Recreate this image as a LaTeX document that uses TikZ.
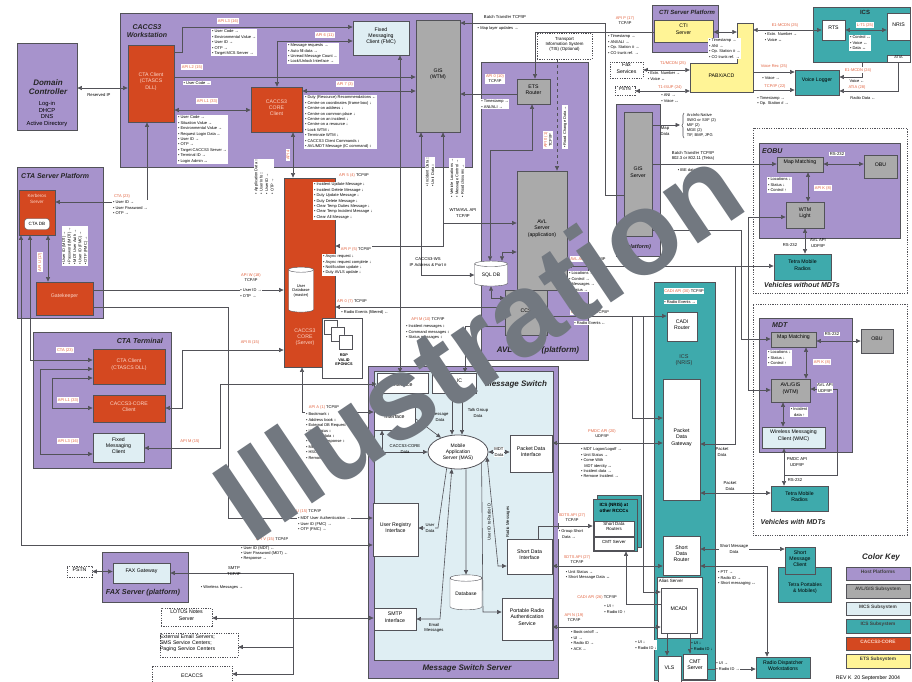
\documentclass[tikz,border=0pt]{standalone}
\usepackage{fontspec}
\setmainfont{Liberation Sans}
\usetikzlibrary{arrows.meta, fit, shapes.geometric, decorations.pathreplacing}

\definecolor{host}{RGB}{167,147,204}
\definecolor{avl}{RGB}{170,170,170}
\definecolor{mcs}{RGB}{223,238,243}
\definecolor{ics}{RGB}{62,170,172}
\definecolor{core}{RGB}{212,72,32}
\definecolor{ets}{RGB}{255,244,150}
\definecolor{borde}{RGB}{82,82,88}
\definecolor{apic}{RGB}{226,98,62}
\definecolor{rosa}{RGB}{252,214,200}
\definecolor{marca}{RGB}{114,120,128}

\begin{document}
\begin{tikzpicture}[x=1pt, y=-1pt, >={Triangle[length=4.5pt,width=4pt]},
  caja/.style={draw=borde, line width=0.8pt, inner sep=0pt, align=center, font=\fontsize{5.2}{6.2}\selectfont},
  hostb/.style={caja, fill=host},
  grisb/.style={caja, fill=avl},
  mcsb/.style={caja, fill=mcs},
  icsb/.style={caja, fill=ics},
  coreb/.style={caja, fill=core, text=rosa},
  etsb/.style={caja, fill=ets},
  blanca/.style={caja, fill=white},
  punteada/.style={caja, fill=white, line width=0.6pt, dash pattern=on 1.2pt off 1.2pt},
  titulo/.style={font=\bfseries\itshape\fontsize{7.5}{8.5}\selectfont, text=black!85, align=center, inner sep=0pt},
  bul/.style={fill=white, align=left, inner sep=0.8pt, font=\fontsize{4}{5.4}\selectfont},
  api/.style={fill=white, text=apic, align=center, inner sep=0.8pt, font=\fontsize{4}{5}\selectfont},
  nota/.style={align=center, inner sep=0.6pt, font=\fontsize{4.2}{5.2}\selectfont},
  linea/.style={draw=borde, line width=0.6pt},
  cil/.style={cylinder, shape border rotate=90, draw=borde, fill=white, aspect=0.3, inner sep=0pt, align=center, font=\fontsize{4}{4.8}\selectfont},
]
\useasboundingbox (0,0) rectangle (912,681);
\fill[white] (0,0) rectangle (912,681);

% plataformas
\node[hostb, fit={(17,43)(77,130)}] (dc) {};
\node[hostb, fit={(120,13)(472,167)}] (ws) {};
\node[hostb, fit={(17,167)(103,318)}] (ctasp) {};
\node[hostb, fit={(33,332)(171,468)}] (ctat) {};
\node[hostb, fit={(102,552)(188,602)}] (fax) {};
\node[hostb, fit={(368,366)(558,678)}] (mss) {};
\node[mcsb, fit={(374,371)(553,660)}] (ms) {};
\node[hostb, fit={(481,62)(588,360)}] (avlp) {};
\node[hostb, fit={(616,104)(660,256)}] (gisp) {};
\node[hostb, fit={(652,5)(718,52)}] (ctip) {};
\node[icsb, fit={(813,7)(910,62)}] (icsr) {};
\node[icsb, fit={(654,282)(715,680)}] (icsn) {};
\node[punteada, fit={(753,128)(907,293)}] (vsin) {};
\node[punteada, fit={(753,304)(907,535)}] (vcon) {};
\node[hostb, fit={(759,143)(900,238)}] (eobu) {};
\node[hostb, fit={(759,318)(852,452)}] (mdt) {};

% titulos
\node[titulo, font=\bfseries\itshape\fontsize{8}{9}\selectfont] at (48,87) {Domain\\Controller};
\node[nota, font=\fontsize{5.8}{6.7}\selectfont] at (47,114) {Log-in\\DHCP\\DNS\\Active Directory};
\node[titulo, font=\bfseries\itshape\fontsize{7}{7.5}\selectfont] at (147,31) {CACCS3\\Workstation};
\node[titulo, anchor=west, font=\bfseries\itshape\fontsize{7}{8}\selectfont] at (21,176) {CTA Server Platform};
\node[titulo, anchor=east, font=\bfseries\itshape\fontsize{7.2}{8}\selectfont] at (163,341) {CTA Terminal};
\node[titulo, font=\bfseries\itshape\fontsize{7.2}{8}\selectfont] at (143,593) {FAX Server (platform)};
\node[titulo, font=\bfseries\itshape\fontsize{8}{9}\selectfont] at (467,668) {Message Switch Server};
\node[titulo, font=\bfseries\itshape\fontsize{8}{9}\selectfont] at (516,384) {Message Switch};
\node[titulo, font=\bfseries\itshape\fontsize{8}{9}\selectfont] at (538,350) {AVL Server (platform)};
\node[titulo, font=\bfseries\itshape\fontsize{5.5}{6}\selectfont] at (638,247) {(platform)};
\node[titulo, font=\bfseries\itshape\fontsize{6}{7}\selectfont] at (687,12) {CTI Server Platform};
\node[titulo, font=\bfseries\fontsize{6}{7}\selectfont] at (865,12) {ICS};
\node[titulo, anchor=west, font=\bfseries\itshape\fontsize{7}{8}\selectfont] at (762,151) {EOBU};
\node[titulo, anchor=west, font=\bfseries\itshape\fontsize{7}{8}\selectfont] at (772,325) {MDT};
\node[titulo, font=\bfseries\itshape\fontsize{7}{8}\selectfont] at (802,285) {Vehicles without MDTs};
\node[titulo, font=\bfseries\itshape\fontsize{7}{8}\selectfont] at (793,522) {Vehicles with MDTs};

% estacion de trabajo y servidor
\node[coreb, fit={(128,45)(174,122)}] (ctacl) {CTA Client\\(CTASCS\\DLL)};
\node[mcsb, fit={(353,21)(409,55)}] (fmc) {Fixed\\Messaging\\Client (FMC)};
\node[coreb, fit={(251,87)(302,132)}] (corecl) {CACCS3\\CORE\\Client};
\node[grisb, fit={(416,20)(460,132)}] (giswtm) {GIS\\(WTM)};
\node[coreb, fit={(284,178)(335,367)}] (server) {};
\node[text=rosa, font=\fontsize{5.2}{6.2}\selectfont, align=center] at (305,337) {CACCS3\\CORE\\(Server)};
\node[cil, minimum width=25pt, minimum height=45pt] (userdb) at (301,291) {User\\Database\\(master)};
\node[blanca, fit={(322,318)(362,378)}] (rdp) {};
\node[cil, minimum width=13pt, minimum height=14pt] (rdp1) at (331,327) {};
\node[cil, minimum width=13pt, minimum height=14pt] (rdp2) at (338,334) {};
\node[cil, minimum width=13pt, minimum height=14pt] (rdp3) at (346,342) {};
\node[nota, font=\bfseries\fontsize{3.8}{4.6}\selectfont] at (344,360) {RDP\\VALID\\EPONICS};

% plataforma CTA y terminal
\node[coreb, fit={(19,190)(55,235)}] (kerb) {};
\node[text=rosa, font=\fontsize{4.6}{5.4}\selectfont, align=center] at (37,199) {Kerberos\\Server};
\node[draw=borde, fill=white, rounded corners=3pt, minimum width=25pt, minimum height=11pt, inner sep=0pt, font=\fontsize{4.6}{5}\selectfont] (ctadb) at (37,224) {CTA DB};
\node[coreb, fit={(36,282)(93,315)}] (gate) {Gatekeeper};
\node[coreb, fit={(93,349)(165,384)}] (ctacl2) {CTA Client\\(CTASCS DLL)};
\node[coreb, fit={(93,395)(165,422)}] (corecl2) {CACCS3-CORE\\Client};
\node[mcsb, fit={(93,433)(144,462)}] (fmc2) {Fixed\\Messaging\\Client};

% fax y correo
\node[mcsb, fit={(113,563)(170,583)}] (faxgw) {FAX Gateway};
\node[punteada, fit={(67,566)(92,577)}] (pstna) {PSTN};
\node[punteada, fit={(161,608)(212,626)}] (lotus) {LOTUS Notes\\Server};
\node[punteada, fit={(160,633)(238,657)}, align=left] (extsrv) {External Email Servers;\\SMS Service Centers;\\Paging Service Centers};
\node[punteada, fit={(152,666)(232,690)}] (ecaccs) {ECACCS};

% message switch
\node[blanca, fit={(377,373)(428,393)}] (srvif) {Server\\Interface};
\node[blanca, fit={(432,373)(476,393)}] (avlic) {AVL IC};
\node[blanca, fit={(374,407)(415,430)}] (coreif) {Interface};
\node[ellipse, draw=borde, fill=white, line width=0.8pt, minimum width=60pt, minimum height=34pt, inner sep=0pt, align=center, font=\fontsize{5}{6}\selectfont] (mas) at (458,452) {Mobile\\Application\\Server (MAS)};
\node[blanca, fit={(510,435)(552,472)}] (pdi) {Packet Data\\Interface};
\node[blanca, fit={(373,503)(418,556)}] (uri) {User Registry\\Interface};
\node[blanca, fit={(507,539)(552,574)}] (sdi) {Short Data\\Interface};
\node[cil, minimum width=32pt, minimum height=35pt, font=\fontsize{5}{6}\selectfont] (dbase) at (466,594) {Database};
\node[blanca, fit={(374,608)(416,630)}] (smtpif) {SMTP\\Interface};
\node[blanca, fit={(502,598)(552,640)}] (pras) {Portable Radio\\Authentication\\Service};

% AVL y GIS
\node[grisb, fit={(517,79)(550,104)}] (etsr) {ETS\\Router};
\node[punteada, fit={(537,33)(592,59)}, font=\fontsize{4.4}{5.4}\selectfont] (tis) {Transport\\Information System\\(TIS) (Optional)};
\node[grisb, fit={(517,171)(567,290)}] (avlsrv) {AVL\\Server\\(application)};
\node[grisb, fit={(505,290)(547,335)}] (ccs) {CCS};
\node[cil, minimum width=33pt, minimum height=25pt, font=\fontsize{5}{6}\selectfont] (sqldb) at (491,275) {SQL DB};
\node[grisb, fit={(624,112)(652,236)}] (gissrv) {GIS\\Server};

% CTI, PABX, ICS
\node[etsb, fit={(654,20)(713,42)}] (ctis) {CTI\\Server};
\filldraw[fill=ets, draw=borde, line width=0.8pt] (737,23) -- (753,23) -- (753,92) -- (690,92) -- (690,63) -- (737,63) -- cycle;
\node[inner sep=0pt, fit={(737,23)(753,63)}] (pabxt) {};
\node[inner sep=0pt, fit={(690,63)(753,92)}, font=\fontsize{5.2}{6}\selectfont] (pabx) {PABX/ACD};
\node[blanca, fit={(822,20)(845,40)}] (rts) {RTS};
\node[blanca, fit={(887,13)(910,40)}] (nris) {NRIS};
\node[blanca, fit={(887,55)(910,62)}, font=\fontsize{3.8}{4}\selectfont] (atia) {ATIA};
\node[icsb, fit={(795,70)(839,95)}] (vlog) {Voice Logger};
\node[punteada, fit={(610,62)(643,78)}] (faxs) {Fax\\Services};
\node[punteada, fit={(615,86)(635,95)}, font=\fontsize{4.4}{5}\selectfont] (pstnb) {PSTN};

\node[blanca, fit={(667,312)(697,341)}] (cadir) {CADI\\Router};
\node[nota, font=\fontsize{5.5}{6.5}\selectfont, text=black!80] at (684,360) {ICS\\(NRIS)};
\node[blanca, fit={(663,379)(700,500)}] (pdg) {Packet\\Data\\Gateway};
\node[blanca, fit={(663,536)(700,575)}] (sdr) {Short\\Data\\Router};
\node[blanca, fit={(657,577)(702,638)}] (alias) {};
\node[nota, anchor=north west, font=\fontsize{4.5}{5}\selectfont] at (658,578) {Alias Server};
\node[blanca, fit={(661,588)(697,633)}] (mcadi) {MCADI};
\node[blanca, fit={(658,656)(681,684)}] (vls) {VLS};
\node[blanca, fit={(683,654)(707,679)}] (cmt) {CMT\\Server};
\filldraw[fill=ics, draw=borde, line width=0.8pt] (597,495) rectangle (641,547);
\node[icsb, fit={(593,499)(637,551)}] (icso) {};
\node[nota, font=\bfseries\fontsize{4.6}{5.4}\selectfont, align=left] at (614,508) {ICS (NRIS) at\\other RCCCs};
\node[blanca, fit={(594,521)(634,536)}, font=\fontsize{4.4}{5}\selectfont] (sdrs) {Short Data\\Routers};
\node[blanca, fit={(594,537)(634,550)}, font=\fontsize{4.4}{5}\selectfont] (cmto) {CMT Server};

% vehiculos
\node[grisb, fit={(777,157)(823,172)}] (mm1) {Map Matching};
\node[grisb, fit={(864,155)(897,178)}] (obu1) {OBU};
\node[grisb, fit={(786,202)(824,228)}] (wtml) {WTM\\Light};
\node[icsb, fit={(774,254)(831,280)}] (tmr1) {Tetra Mobile\\Radios};
\node[grisb, fit={(771,332)(816,347)}] (mm2) {Map Matching};
\node[grisb, fit={(861,329)(893,353)}] (obu2) {OBU};
\node[grisb, fit={(771,379)(810,402)}] (avlgis) {AVL/GIS\\(WTM)};
\node[mcsb, fit={(762,427)(825,448)}] (wmc) {Wireless Messaging\\Client (WMC)};
\node[icsb, fit={(771,486)(828,511)}] (tmr2) {Tetra Mobile\\Radios};
\node[icsb, fit={(778,567)(831,602)}] (tpm) {};
\node[nota, font=\fontsize{5}{6}\selectfont] at (805,588) {Tetra Portables\\\& Mobiles)};
\node[icsb, fit={(785,547)(815,574)}] (smc) {Short\\Message\\Client};
\node[icsb, fit={(756,657)(810,678)}] (rdw) {Radio Dispatcher\\Workstations};

% conexiones
\coordinate (j1) at (443,223);
\coordinate (j2) at (632,316);
\coordinate (j3) at (643,316);
\coordinate (j4) at (735,266);
\coordinate (j5) at (748,266);
\coordinate (j6) at (784,475);
\coordinate (j7) at (293,618);
\coordinate (j8) at (293,647);
\coordinate (mapd) at (680,125);

\draw[linea,<->] (dc.east |- 0,88) -- (ctacl.west |- 0,88);
\draw[linea,->] (ctacl.east |- 0,52) -| (182,27) -- (fmc.west |- 0,27);
\draw[linea,->] (ctacl.east |- 0,77) -- (giswtm.west |- 0,77);
\draw[linea,<->] (ctacl.east |- 0,110) -- (corecl.west |- 0,110);
\draw[linea,<->] (corecl.north -| 277,0) |- (fmc.west |- 0,41);
\draw[linea,<->] (corecl.east |- 0,91) -- (giswtm.west |- 0,91);
\draw[linea,<->] (corecl.south -| 293,0) -- (server.north -| 293,0);
\draw[linea,<->] (fmc.south -| 400,0) -- (srvif.north -| 400,0);
\draw[linea,<-] (giswtm.east |- 0,23) -| (605,195) -- (gissrv.west |- 0,195);
\draw[linea,->] (ctis.west |- 0,32) -| (etsr.north -| 535,0);
\draw[linea,->] (etsr.west |- 0,94) -- (giswtm.east |- 0,94);
\draw[linea,->, dashed] (tis.south -| 557,0) -- (avlsrv.north -| 557,0);
\draw[linea,<->] (etsr.south -| 532,0) |- (490,150) -- (sqldb.north -| 490,0);
\draw[linea,<->] (giswtm.south -| 421,0) |- (sqldb.west);
\draw[linea,<->] (giswtm.south -| 443,0) |- (server.east |- 0,246);
\draw[linea,->] (j1) -- (avlsrv.west |- j1);
\draw[linea,<->] (sqldb.north -| 502,0) |- (avlsrv.west |- 0,252);
\draw[linea,<->] (sqldb.south) |- (ccs.west |- 0,298);
\draw[linea,->] (ccs.west |- 0,326) -| (avlic.north -| 465,0);
\draw[linea,<-] (server.east |- 0,307) -- (ccs.west |- 0,307);

\draw[linea,<->] (ctacl.south -| 147,0) |- (kerb.east |- 0,202);
\draw[linea,<->] (kerb.south -| 48,0) -- (gate.north -| 48,0);
\draw[linea,->] (gate.east |- 0,290) -- (server.west |- 0,290);
\draw[linea,->] (gate.east |- 0,307) -| (228,518) -- (uri.west |- 0,518);
\draw[linea,<->] (kerb.south -| 21,0) |- (uri.west |- 0,545);
\draw[linea,<->] (kerb.south -| 30,0) |- (ctacl2.west |- 0,360);
\draw[linea,<->] (ctacl2.west |- 0,378) -| (52,408) -- (corecl2.west |- 0,408);
\draw[linea,<->] (ctacl2.west |- 0,369) -| (40,454) -- (fmc2.west |- 0,454);
\draw[linea,<->] (corecl2.east |- 0,408) -| (182,350) -- (server.west |- 0,350);
\draw[linea,<->] (fmc2.east |- 0,448) -| (220,384) -- (srvif.west |- 0,384);
\draw[linea,<->] (server.south -| 302,0) |- (coreif.west |- 0,412);

\draw[linea,<->] (pstna.east) -- (faxgw.west |- pstna.east);
\draw[linea,<->] (lotus.east |- j7) -- (smtpif.west |- j7);
\draw[linea,->] (j7) |- (faxgw.east |- 0,573);
\draw[linea,->] (j7) |- (ecaccs.east |- 0,674);
\draw[linea,->] (j8) -- (extsrv.east |- j8);

\draw[linea,<->] (coreif.south -| 382,0) |- (mas.west);
\draw[linea,->] (coreif.east) -- (mas.140);
\draw[linea,->] (avlic.south -| 452,0) -- (mas.north -| 452,0);
\draw[linea,->] (avlic.south -| 462,0) -- (mas.north -| 462,0);
\draw[linea,<->] (mas.east) -- (pdi.west |- mas.east);
\draw[linea,<-] (uri.east |- 0,528) -- (438,528) -- (mas.235);
\draw[linea,<->] (smtpif.east |- 0,619) -- (440,619) -- (mas.250);
\draw[linea,->] (mas.south -| 466,0) -- (dbase.north);
\draw[linea,<->] (mas.-10) -- (498,566) -- (sdi.west |- 0,566);
\draw[linea,->] (mas.-25) -- (483,612) -- (pras.west |- 0,612);

\draw[linea,<->] (pdi.east |- 0,443) -- (pdg.west |- 0,443);
\draw[linea,->] (sdi.north -| 538,0) |- (icso.west |- 0,526);
\draw[linea,<->] (sdi.east |- 0,566) -- (sdr.west |- 0,566);
\draw[linea,->] (mcadi.west |- 0,604) -| (icso.south -| 626,0);
\draw[linea,<->] (pras.east |- 0,627) -- (mcadi.west |- 0,627);
\draw[linea,->] (mcadi.south -| 667,0) -- (vls.north -| 667,0);
\draw[linea,->] (mcadi.south -| 690,0) -- (cmt.north -| 690,0);
\draw[linea,->] (cmt.east |- 0,669) -- (rdw.west |- 0,669);
\draw[linea,<->] (sdr.east |- 0,549) -- (smc.west |- 0,549);
\draw[linea,<->] (rdw.north -| 767,0) |- (sdr.east |- 0,566);
\draw[linea,<->] (ccs.east |- 0,316) -- (cadir.west |- 0,316);
\draw[linea,->] (j2) |- (pdg.west |- 0,418);
\draw[linea,->] (j3) |- (mcadi.west |- 0,592);

\draw[linea,<->] (avlsrv.east |- 0,266) -- (tmr1.west |- 0,266);
\draw[linea,->] (j4) |- (pdg.east |- 0,444);
\draw[linea,->] (j5) |- (wtml.west |- 0,217);
\draw[linea,->] (j5) |- (avlgis.west |- 0,390);
\draw[linea,->] (gissrv.east |- 0,164) -- (mm1.west |- 0,164);
\draw[linea,->] (gissrv.east |- 0,230) -| (741,339) -- (mm2.west |- 0,339);
\draw[linea,->] (gissrv.east |- mapd) -- (mapd);
\draw[linea,<->] (mm1.east |- 0,164) -- (obu1.west |- 0,164);
\draw[linea,<->] (mm1.south -| 808,0) -- (wtml.north -| 808,0);
\draw[linea,<->] (wtml.south -| 805,0) -- (tmr1.north -| 805,0);
\draw[linea,<->] (mm2.east |- 0,341) -- (obu2.west |- 0,341);
\draw[linea,<->] (mm2.south -| 806,0) -- (avlgis.north -| 806,0);
\draw[linea,<->] (avlgis.south -| 783,0) -- (wmc.north -| 783,0);
\draw[linea,<->] (wmc.south -| 784,0) -- (tmr2.north -| 784,0);
\draw[linea,<-] (avlgis.east |- 0,389) -| (837,475) -- (j6);
\draw[linea,<->] (pdg.east |- 0,493) -- (tmr2.west |- 0,493);

\draw[linea,<->] (ctis.east |- 0,32) -- (pabxt.west |- 0,32);
\draw[linea,<->] (pabxt.east |- 0,30) -- (rts.west |- 0,30);
\draw[linea,<->] (rts.east |- 0,30) -- (nris.west |- 0,30);
\draw[linea,->] (pabx.east |- 0,72) -- (vlog.west |- 0,72);
\draw[linea,->] (pabx.east |- 0,90) -- (vlog.west |- 0,90);
\draw[linea,->] (icsr.south -| 862,0) |- (vlog.east |- 0,77);
\draw[linea,->] (atia.south -| 898,0) |- (vlog.east |- 0,91);
\draw[linea,<->] (pabx.west |- 0,70) -- (faxs.east |- 0,70);
\draw[linea,<->] (pabx.west |- 0,91) -- (pstnb.east |- 0,91);
\draw[linea, decorate, decoration={brace, amplitude=2pt}] (684,138) -- (684,113);

% etiquetas
\node[nota] at (99,95) {Reserved IP};
\node[api] at (228,21) {API L3 (16)};
\node[bul, anchor=north west] at (211,29) {• User Code →\\• Environmental Value →\\• User ID →\\• OTP →\\• Target MCS Server →};
\node[api] at (192,67) {API L2 (15)};
\node[bul] at (197,83) {• User Code →};
\node[api] at (207,101) {API L1 (33)};
\node[bul, anchor=north west] at (177,115) {• User Code →\\• Situation Value →\\• Environmental Value →\\• Request Login Data ←\\• User ID →\\• OTP →\\• Target CACCS3 Server →\\• Terminal ID →\\• Login Admin ↔};
\node[api] at (325,35) {API 6 (11)};
\node[bul, anchor=north west] at (287,43) {• Message requests →\\• Auto fill data →\\• Unread Message Count ←\\• Lock/Unlock Interface →};
\node[api] at (345,84) {API 7 (3)};
\node[bul, anchor=north west] at (304,95) {• Duty (Resource) Recommendations ←\\• Centre on coordinates (frame box) ↓\\• Centre on address ↓\\• Centre on common place ↓\\• Centre on an incident ↓\\• Centre on a resource ↓\\• Lock WTM ↓\\• Terminate WTM ↓\\• CACCS3 Client Commands ↕\\• AVL/MDT Message (IC command) ↕};
\node[api, rotate=90] at (288,155) {API 4};
\node[bul, rotate=90] at (264,177) {• Application Data ↕\\• User Info ↕\\• User ID →\\• OTP →};
\node[bul, rotate=90] at (430,172) {• Incident Data ↕\\• Unit Data ↕};
\node[bul, rotate=90] at (457,178) {• Vehicle Locations →\\• Message Control →\\• Road closures →};
\node[nota, fill=white] at (463,213) {WTM/AVL API\\TCP/IP};
\node[api] at (122,196) {CTA (23)};
\node[bul, anchor=north west] at (112,200) {• User ID →\\• User Password →\\• OTP →};
\node[api, rotate=90] at (40,262) {API U (17)};
\node[bul, rotate=90] at (75,246) {• User ID (MDT) →\\• Password (MDT) →\\• MDT User Auth →\\• User ID (FMC) →\\• OTP (FMC) →};
\node[api] at (65,350) {CTA (23)};
\node[api] at (68,400) {API L1 (33)};
\node[api] at (68,441) {API L3 (16)};
\node[api] at (190,441) {API M (15)};
\node[api] at (250,342) {API B (15)};
\node[api] at (251,278) {API W (18)\\\textcolor{black}{TCP/IP}};
\node[bul] at (251,293) {• User ID →\\• OTP →};
\node[api] at (354,175) {API 5 (4) \textcolor{black}{TCP/IP}};
\node[bul, anchor=north west] at (313,182) {• Incident Update Message ↓\\• Incident Delete Message ↓\\• Duty Update Message ↓\\• Duty Delete Message ↓\\• Clear Temp Duties Message ↓\\• Clear Temp Incident Message ↓\\• Clear All Message ↓};
\node[api] at (356,249) {API P (5) \textcolor{black}{TCP/IP}};
\node[bul, anchor=north west] at (322,254) {• Async request ↓\\• Async request complete ↓\\• Notification update ↓\\• Duty AVLS update ↓};
\node[api] at (352,301) {API 0 (7) \textcolor{black}{TCP/IP}};
\node[bul] at (365,312) {• Radio Events (filtered) ←};
\node[nota] at (428,262) {CACCS3-WS\\IP Address \& Port \#};
\node[api] at (428,319) {API M (10) \textcolor{black}{TCP/IP}};
\node[bul, anchor=north west] at (405,324) {• Incident messages ↕\\• Command messages ↕\\• Status messages ↕};
\node[api] at (324,407) {API A (1) \textcolor{black}{TCP/IP}};
\node[bul, anchor=north west] at (305,412) {• Bookmark ↕\\• Address book ↕\\• External DB Request →\\• Unit Status ↕\\• Incident data ↕\\• Canned Response ↕\\• Messages ↕\\• HSCD ↕\\• Remove ↕};
\node[api] at (305,511) {API U (15) \textcolor{black}{TCP/IP}};
\node[bul, anchor=north west] at (297,516) {• MDT User Authentication →\\• User ID (FMC) →\\• OTP (FMC) →};
\node[api] at (272,539) {API V (15) \textcolor{black}{TCP/IP}};
\node[bul, anchor=north west, font=\fontsize{4}{5}\selectfont] at (240,546) {• User ID (MDT) ←\\• User Password (MDT) ←\\• Response →};
\node[nota] at (234,571) {SMTP\\TCP/IP};
\node[bul] at (222,587) {• Wireless Messages →};

\node[nota] at (405,449) {CACCS3-CORE\\Data};
\node[nota] at (440,417) {Message\\Data};
\node[nota] at (478,413) {Talk Group\\Data};
\node[nota, fill=white] at (499,452) {MDT\\Data};
\node[nota, fill=mcs] at (430,528) {User\\Data};
\node[nota] at (434,628) {Email\\Messages};
\node[nota, rotate=90, fill=mcs] at (508,522) {Radio Messages};
\node[nota, rotate=90, fill=mcs] at (489,522) {User ID to Radio ID};

\node[nota] at (505,17) {Batch Transfer TCP/IP};
\node[bul] at (498,28) {• Map layer updates →};
\node[api] at (495,79) {API 0 (10)\\\textcolor{black}{TCP/IP}};
\node[bul] at (495,104) {• Timestamp →\\• ANI/ALI →};
\node[api, rotate=90] at (548,140) {API 0 (1)\\\textcolor{black}{TCP/IP}};
\node[bul, rotate=90] at (565,127) {• Road Change Data →};
\node[api] at (625,21) {API P (17)\\\textcolor{black}{TCP/IP}};
\node[bul, anchor=north west] at (607,34) {• Timestamp →\\• ANI/ALI →\\• Op. Station \# →\\• CO trunk ref. →};
\node[api] at (588,259) {AVL API (8) \textcolor{black}{UDP/IP}};
\node[bul, anchor=north west] at (568,271) {• Locations →\\• Control →\\• Messages →\\• Status →};
\node[api] at (590,312) {CAD API (28) \textcolor{black}{TCP/IP}};
\node[bul] at (590,323) {• Radio Events ←};
\node[nota] at (665,131) {Map\\Data};
\node[nota, anchor=north west, align=left, font=\fontsize{4}{5}\selectfont] at (686,113) {ArcInfo Native\\SWG or SXF (2)\\MIF (2)\\MGE (2)\\TIF, BMP, JPG};
\node[nota, fill=white] at (693,156) {Batch Transfer TCP/IP\\802.3 or 802.11 (Tetra)};
\node[bul] at (692,170) {• IBE dataset →};

\node[api] at (684,291) {CADI API (30) \textcolor{black}{TCP/IP}};
\node[bul] at (680,302) {• Radio Events →};
\node[api] at (602,434) {PMDC API (20)\\\textcolor{black}{UDP/IP}};
\node[bul, anchor=north west] at (580,447) {• MDT Logon/Logoff →\\• Unit Status →\\• Come With\\\ \ \ MDT identity ↔\\• Incident data →\\• Remove Incident →};
\node[api] at (572,518) {SDTS API (27)\\\textcolor{black}{TCP/IP}};
\node[bul] at (571,534) {• Group Short\\\ \ \ Data →};
\node[api] at (577,560) {SDTS API (27)\\\textcolor{black}{TCP/IP}};
\node[bul] at (588,575) {• Unit Status →\\• Short Message Data ↔};
\node[api] at (597,597) {CADI API (26) \textcolor{black}{TCP/IP}};
\node[bul] at (615,609) {• UI ↑\\• Radio ID ↑};
\node[api] at (574,618) {API N (19)\\\textcolor{black}{TCP/IP}};
\node[bul, anchor=north west] at (570,630) {• Book on/off →\\• UI →\\• Radio ID →\\• ACK ←};
\node[bul] at (646,645) {• UI ↓\\• Radio ID ↓};
\node[bul, fill=ics] at (702,646) {• UI ↓\\• Radio ID ↓};
\node[bul] at (728,666) {• UI →\\• Radio ID →};
\node[nota, fill=white] at (734,549) {Short Message\\Data};
\node[bul, anchor=north west] at (717,570) {• PTT →\\• Radio ID →\\• Short messaging ↔};

\node[bul, anchor=north west] at (708,38) {• Timestamp →\\• ANI →\\• Op. Station \# →\\• CO trunk ref. →};
\node[api] at (785,25) {E1-MCDN (25)};
\node[bul] at (781,37) {• Extn. Number →\\• Voice ↔};
\node[api] at (865,25) {L-T1 (25)};
\node[bul, anchor=north west] at (849,35) {• Control ↔\\• Voice ↔\\• Data ↔};
\node[api] at (774,66) {Voice Rec (25)};
\node[bul] at (771,78) {• Voice →};
\node[api] at (775,86) {TCP/IP (22)};
\node[bul] at (773,101) {• Timestamp →\\• Op. Station \# →};
\node[api] at (858,70) {E1-MCDN (24)};
\node[bul] at (857,81) {Voice ←};
\node[api] at (857,87) {ATIA (28)};
\node[bul] at (863,98) {Radio Data ←};
\node[api] at (673,63) {T1/MCDN (25)};
\node[bul] at (664,76) {• Extn. Number →\\• Voice ↔};
\node[api] at (670,87) {T1-ISUP (24)};
\node[bul] at (670,98) {• ANI →\\• Voice ↔};

\node[nota, fill=white] at (837,154) {RS-232};
\node[bul, anchor=north west] at (767,177) {• Locations ↓\\• Status ↓\\• Control ↑};
\node[api] at (823,188) {API K (8)};
\node[nota] at (790,245) {RS-232};
\node[nota] at (818,243) {AVL API\\UDP/IP};
\node[nota, fill=white] at (832,334) {RS-232};
\node[bul, anchor=north west] at (767,350) {• Locations ↓\\• Status ↓\\• Control ↑};
\node[api] at (822,362) {API K (8)};
\node[nota, fill=white] at (825,388) {AVL API\\UDP/IP};
\node[bul] at (799,412) {• Incident\\\ \ \ data ↑};
\node[nota] at (797,462) {PMDC API\\UDP/IP};
\node[nota] at (795,480) {RS-232};
\node[nota] at (722,452) {Packet\\Data};
\node[nota] at (730,486) {Packet\\Data};

% leyenda de colores
\node[titulo, font=\bfseries\itshape\fontsize{8}{9}\selectfont] at (881,557) {Color Key};
\node[hostb, fit={(846,567)(910,580)}, font=\bfseries\fontsize{4.8}{5}\selectfont, text=black!75] {Host Platforms};
\node[grisb, fit={(846,584)(910,598)}, font=\bfseries\fontsize{4.8}{5}\selectfont, text=black!75] {AVL/GIS Subsystem};
\node[mcsb, fit={(846,602)(910,615)}, font=\bfseries\fontsize{4.8}{5}\selectfont, text=black!75] {MCS Subsystem};
\node[icsb, fit={(846,619)(910,633)}, font=\bfseries\fontsize{4.8}{5}\selectfont, text=black!75] {ICS Subsystem};
\node[coreb, fit={(846,637)(910,650)}, font=\bfseries\fontsize{4.8}{5}\selectfont] {CACCS3-CORE};
\node[etsb, fit={(846,654)(910,668)}, font=\bfseries\fontsize{4.8}{5}\selectfont, text=black!75] {ETS Subsystem};
\node[nota, font=\fontsize{5.2}{6}\selectfont] at (868,678) {REV K\ \ 20 September 2004};

% marca de agua
\node[rotate=34, text=marca, inner sep=0pt, font=\bfseries\fontsize{118}{118}\selectfont] at (478,342) {Illustration};
\end{tikzpicture}
\end{document}
